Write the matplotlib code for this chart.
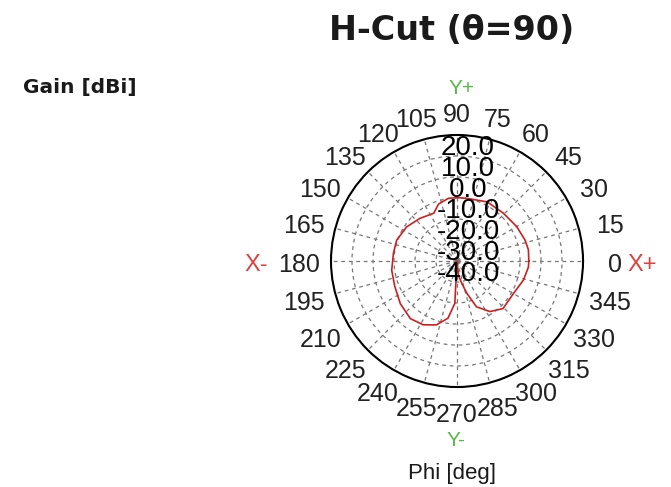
import numpy as np
import matplotlib
matplotlib.use("Agg")
import matplotlib.pyplot as plt
import matplotlib.transforms as mtransforms

# phi [deg] / gain [dBi]
phi_deg = [0, 9, 17, 30, 46, 63, 81, 90, 98, 108, 116, 131, 146, 161, 173,
           188, 202, 217, 231, 242, 252, 261, 267, 270, 276, 282, 287, 293,
           303, 314, 330, 344, 355, 360]
gain_db = [-5.8, -5.6, -6.1, -7.2, -8.3, -8.4, -9.8, -9.8, -9.9, -11.5, -14.7,
           -13.1, -11.0, -9.6, -9.5, -8.6, -8.0, -6.2, -4.7, -5.6, -8.0, -12.4,
           -19.8, -40.0, -33.0, -29.1, -23.9, -16.3, -11.3, -8.5, -9.0, -7.1,
           -5.9, -5.8]

r_ticks = [20, 10, 0, -10, -20, -30, -40]
r_labels = ["20.0", "10.0", "0.0", "-10.0", "-20.0", "-30.0", "-40.0"]
phi_ticks = list(range(0, 360, 15))
R_MIN, R_MAX = -40, 20

def main():
    fig = plt.figure(figsize=(6.71, 4.87), dpi=100)
    ax = fig.add_axes([0.4933, 0.2053, 0.3756, 0.5175], projection="polar")
    ax.set_rlim(R_MIN, R_MAX)

    # grid: dashed circles + spokes every 15 deg
    ax.set_thetagrids(phi_ticks, labels=[])
    ax.set_rgrids([-30, -20, -10, 0, 10], labels=[])
    ax.grid(True, color="#777777", linestyle=(0, (3, 3)), linewidth=0.9)
    ax.spines["polar"].set_color("black")
    ax.spines["polar"].set_linewidth(1.5)
    ax.tick_params(length=0)

    th = np.deg2rad(phi_deg)
    ax.plot(th, gain_db, color="#cc2020", linewidth=1.2)

    # angle labels around the rim (slightly elliptical ring, like the original)
    for p in phi_ticks:
        a = np.deg2rad(p)
        dx = 158 * np.cos(a) / 100.0
        dy = (150 * np.sin(a) - 3.5) / 100.0
        tr = ax.transAxes + mtransforms.ScaledTranslation(dx, dy, fig.dpi_scale_trans)
        ax.text(0.5, 0.5, str(p), ha="center", va="center", fontsize=18,
                family="Liberation Sans", color="#222222", transform=tr,
                clip_on=False)

    # radial labels stacked along phi = 90
    shift = ax.transData + mtransforms.ScaledTranslation(0.11, 0, fig.dpi_scale_trans)
    for r, lab in zip(r_ticks, r_labels):
        ax.text(np.pi / 2, r, lab, ha="center", va="top", fontsize=20,
                family="Liberation Sans", color="black", transform=shift,
                clip_on=False)

    W, H = 671.0, 487.0
    fig.text(452 / W, 1 - 31 / H, "H-Cut (\u03b8=90)", ha="center", va="center",
             fontsize=24, fontweight="bold", family="DejaVu Sans", color="#1a1a1a")
    fig.text(23 / W, 1 - 87 / H, "Gain [dBi]", ha="left", va="center",
             fontsize=14.5, fontweight="bold", family="DejaVu Sans", color="#1a1a1a")
    fig.text(452 / W, 1 - 474 / H, "Phi [deg]", ha="center", va="center",
             fontsize=16, family="Liberation Sans", color="#1a1a1a")

    green, red = "#55bb44", "#e04040"
    fig.text(462 / W, 1 - 89 / H, "Y+", ha="center", va="center", fontsize=15,
             family="Liberation Sans", color=green)
    fig.text(456 / W, 1 - 440 / H, "Y-", ha="center", va="center", fontsize=15,
             family="Liberation Sans", color=green)
    fig.text(642 / W, 1 - 265 / H, "X+", ha="center", va="center", fontsize=17,
             family="Liberation Sans", color=red)
    fig.text(256 / W, 1 - 265 / H, "X-", ha="center", va="center", fontsize=17,
             family="Liberation Sans", color=red)

    fig.savefig("out.png", dpi=100)


if __name__ == "__main__":
    main()
